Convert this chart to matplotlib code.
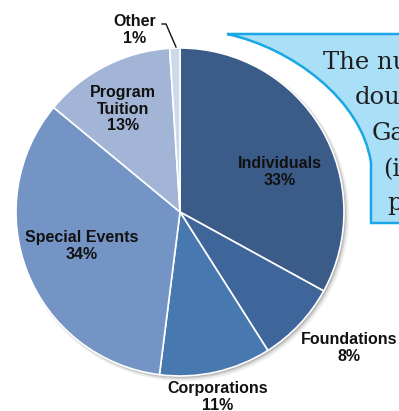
import matplotlib
matplotlib.use("Agg")
import matplotlib.pyplot as plt
from matplotlib.patches import Circle, PathPatch
from matplotlib.path import Path

# ---------- Revenue mix ----------
sources = ["Individuals", "Foundations", "Corporations", "Special Events", "Program Tuition", "Other"]
shares = [33, 8, 11, 34, 13, 1]
label_text = ["Individuals", "Foundations", "Corporations", "Special Events", "Program\nTuition", "Other"]
colors = ["#3B5B88", "#3F669B", "#4778B0", "#7494C5", "#A3B5D7", "#CDD8EA"]

# label anchor points (pixels, y down)
label_xy = [(280, 172), (349, 348), (218, 397), (82, 246), (123, 109), (135, 30)]

# callout text fragments
note_lines = ["The nu", "dou", "Ga", "(i", "p"]
note_x = [323, 355, 372, 383, 387]
note_y = [69, 104, 140, 176, 210]

W, H = 399, 411
fig = plt.figure(figsize=(W / 100, H / 100), dpi=100)
ax = fig.add_axes([0, 0, 1, 1])

cx, cy, r = 180, 212, 164

# soft drop shadow under the pie
for off, a, extra in [(3, 0.10, 2.0), (2, 0.18, 1.0), (1.5, 0.25, 0.0)]:
    ax.add_patch(Circle((cx + off, cy + off), r + extra, color="#555555", alpha=a, lw=0, zorder=1))

# y axis is inverted, so a visual clockwise sweep from 12 o'clock is
# counter-clockwise from -90 in data space
wedges, _ = ax.pie(shares, colors=colors, startangle=-90, counterclock=True,
                   center=(cx, cy), radius=r,
                   wedgeprops=dict(edgecolor="white", linewidth=1.2, zorder=2))
for w in wedges:
    w.set_zorder(2)

lab_font = dict(family=["Liberation Sans", "DejaVu Sans"], fontsize=11.5,
                fontweight="bold", color="#111111", ha="center", va="center",
                linespacing=1.15, zorder=5)
for txt, val, (lx, ly) in zip(label_text, shares, label_xy):
    ax.text(lx, ly, f"{txt}\n{val}%", **lab_font)

# leader line for the tiny "Other" slice
ax.plot([162, 166, 176], [24, 24, 47], color="#111111", lw=1.0, zorder=5)

# callout box with a curved left edge hugging the pie
verts = [(227, 34), (420, 34), (420, 223), (371, 223), (371, 163),
         (362, 100), (292, 48), (227, 34), (227, 34)]
codes = [Path.MOVETO, Path.LINETO, Path.LINETO, Path.LINETO, Path.LINETO,
         Path.CURVE4, Path.CURVE4, Path.CURVE4, Path.CLOSEPOLY]
ax.add_patch(PathPatch(Path(verts, codes), facecolor="#AADFF8", edgecolor="#19A7E6",
                       lw=1.8, zorder=3, joinstyle="miter"))

for s, x, y in zip(note_lines, note_x, note_y):
    ax.text(x, y, s, family=["DejaVu Serif"], fontsize=17.5,
            color="#1E1E1E", ha="left", va="baseline", zorder=4)

ax.set_xlim(0, W)
ax.set_ylim(H, 0)
ax.axis("off")

fig.savefig("out.png", dpi=100)
